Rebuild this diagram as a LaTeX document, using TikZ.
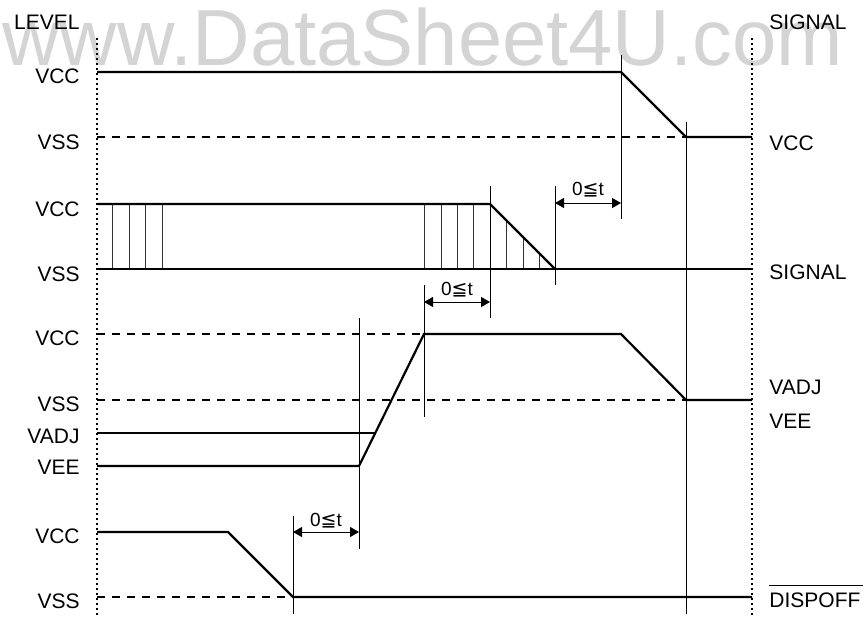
\documentclass[tikz,border=0pt]{standalone}
\usepackage{fontspec}
\setmainfont{Liberation Sans}
\newfontfamily\dejavu{DejaVu Sans}
\usetikzlibrary{arrows.meta}
\begin{document}
\begin{tikzpicture}[x=0.5pt,y=-0.5pt,
  sig/.style={line width=1.1pt,line join=miter},
  lvl/.style={line width=1.2pt,dash pattern=on 4pt off 3.5pt},
  axisline/.style={line width=1.2pt,dash pattern=on 1.2pt off 1.3pt},
  guide/.style={line width=0.5pt},
  hatch/.style={line width=0.5pt,black!80},
  dim/.style={line width=0.5pt,{Triangle[length=4.5pt,width=5pt]}-{Triangle[length=4.5pt,width=5pt]}},
  lbl/.style={inner sep=0pt,font=\fontsize{10.5}{12}\selectfont},
  llbl/.style={lbl,anchor=east},
  rlbl/.style={lbl,anchor=west},
  tlbl/.style={inner sep=0pt,font=\fontsize{9.5}{10}\selectfont}]
\useasboundingbox (0,0) rectangle (865,623);
% watermark
\node[inner sep=0pt,anchor=base west,text=black!17,font=\fontsize{39.8}{44}\selectfont] (wm) at (2,65) {www.DataSheet4U.com};
% axes
\draw[axisline] (97,38) -- (97,616);
\draw[axisline] (752,38) -- (752,616);
\node[lbl,anchor=east] (level) at (80,22) {LEVEL};
\node[lbl,anchor=west] (sigtop) at (769,22) {SIGNAL};
% left labels
\node[llbl] (l1) at (80,76) {VCC};
\node[llbl] (l2) at (80,142) {VSS};
\node[llbl] (l3) at (80,209) {VCC};
\node[llbl] (l4) at (80,274) {VSS};
\node[llbl] (l5) at (80,338) {VCC};
\node[llbl] (l6) at (80,404) {VSS};
\node[llbl] (l7) at (80,436) {VADJ};
\node[llbl] (l8) at (80,467) {VEE};
\node[llbl] (l9) at (80,536) {VCC};
\node[llbl] (l10) at (80,601) {VSS};
% right labels
\node[rlbl] (r1) at (769,143) {VCC};
\node[rlbl] (r2) at (769,272) {SIGNAL};
\node[rlbl] (r3) at (769,387) {VADJ};
\node[rlbl] (r4) at (769,421) {VEE};
\node[rlbl] (r5) at (769,600) {DISPOFF};
\draw[line width=0.5pt] ([yshift=3.5pt]r5.north west) -- ([yshift=3.5pt,xshift=1pt]r5.north east);
% dashed level lines
\draw[lvl] (97,137) -- (686,137);
\draw[lvl] (97,334) -- (424,334);
\draw[lvl] (97,400) -- (686,400);
\draw[lvl] (97,597) -- (293,597);
% guide verticals
\draw[guide] (621,55) -- (621,219);
\draw[guide] (686,122) -- (686,614);
\draw[guide] (555,186) -- (555,285);
\draw[guide] (490,186) -- (490,318);
\draw[guide] (424,285) -- (424,417);
\draw[guide] (359,318) -- (359,549);
\draw[guide] (293,516) -- (293,614);
% hatching row 2
\foreach \x in {112,129,145,162,424,441,457,473} \draw[hatch] (\x,204) -- (\x,269);
\foreach \x in {506,523,539} \draw[hatch] (\x,{204+(\x-490)}) -- (\x,269);
% signals
\draw[sig] (97,72) -- (621,72) -- (686,137) -- (752,137);
\draw[sig] (97,204) -- (490,204) -- (555,269);
\draw[sig] (97,269) -- (752,269);
\draw[sig] (97,433) -- (375,433);
\draw[sig] (97,466) -- (359,466) -- (424,334) -- (621,334) -- (686,400) -- (752,400);
\draw[sig] (97,532) -- (228,532) -- (293,597) -- (752,597);
% dimension arrows
\coordinate (a1) at (555,203); \coordinate (b1) at (621,203);
\coordinate (a2) at (424,302); \coordinate (b2) at (490,302);
\coordinate (a3) at (293,532); \coordinate (b3) at (359,532);
\draw[dim] (a1) -- (b1);
\draw[dim] (a2) -- (b2);
\draw[dim] (a3) -- (b3);
\node[tlbl] (t1) at (588,190) {0{\dejavu ≦}t};
\node[tlbl] (t2) at (457,290) {0{\dejavu ≦}t};
\node[tlbl] (t3) at (326,521) {0{\dejavu ≦}t};
\end{tikzpicture}
\end{document}
